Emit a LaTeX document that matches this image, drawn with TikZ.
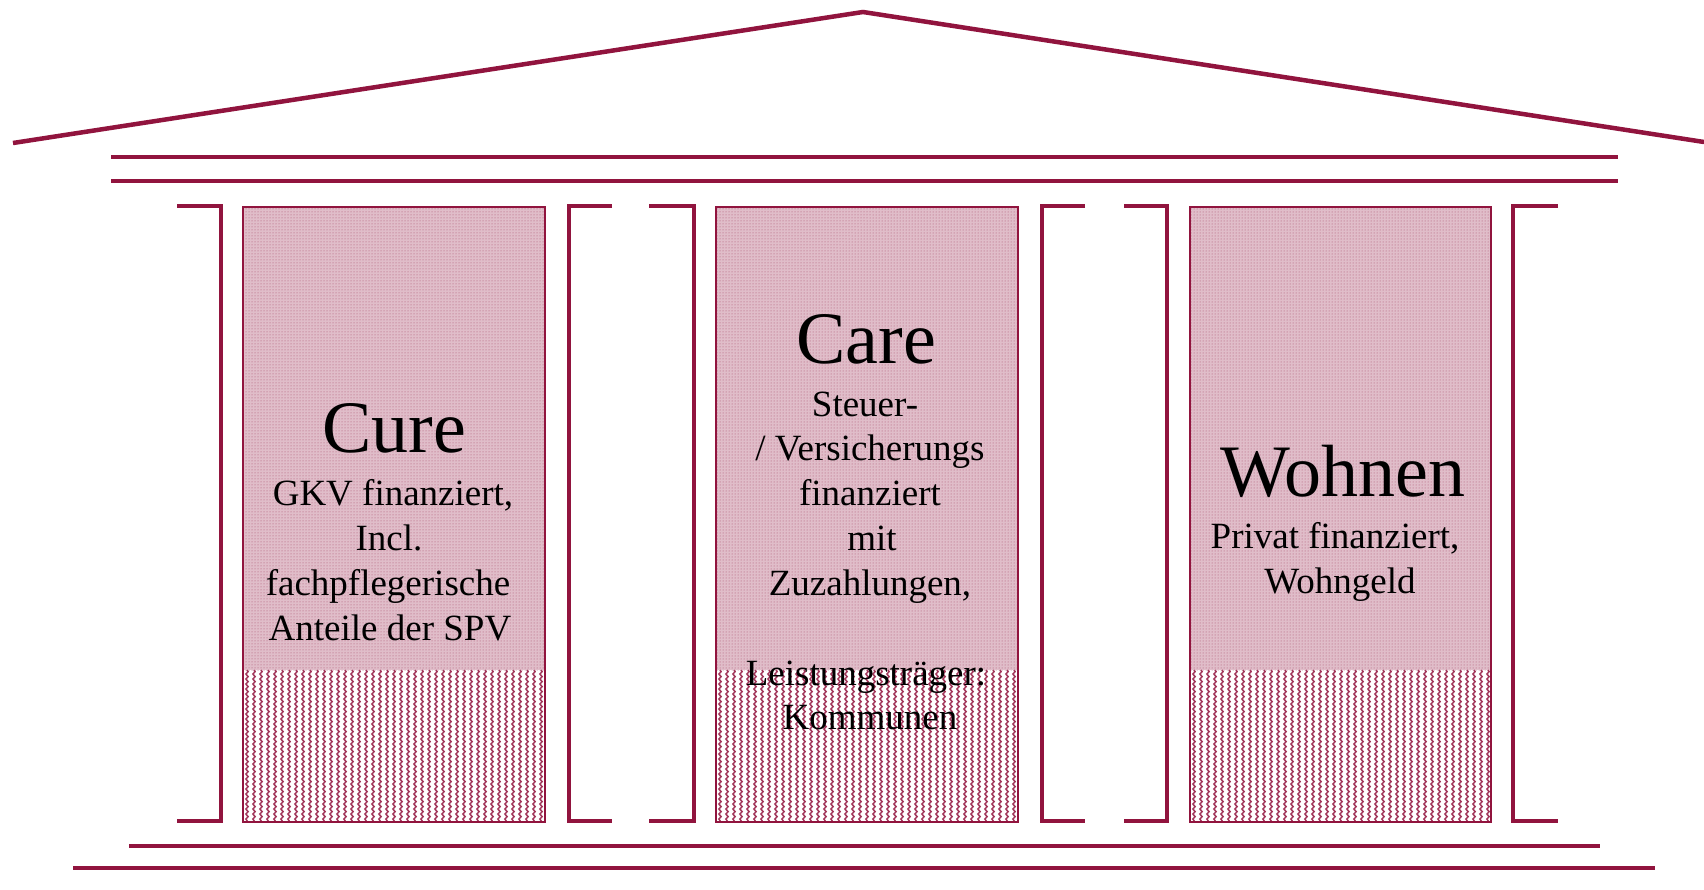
\documentclass[tikz,border=0pt]{standalone}
\usepackage{fontspec}
\setmainfont{Liberation Serif}
\usetikzlibrary{patterns,decorations.pathmorphing}
\definecolor{maroon}{RGB}{145,20,62}
\begin{document}
\begin{tikzpicture}[x=1pt,y=-1pt,
  struct/.style={draw=maroon,line width=4.5pt,line join=miter},
  colbox/.style={draw=maroon,line width=1.3pt},
  colfill/.style={fill=maroon!28},
  coldots/.style={pattern=dots,pattern color=maroon!75},
  wave/.style={draw=maroon!85,line width=1.5pt,decorate,decoration={snake,segment length=5pt,amplitude=1.1pt}},
  title/.style={font=\fontsize{74}{80}\selectfont,anchor=base,inner sep=0pt},
  body/.style={font=\fontsize{37}{45}\selectfont,anchor=base,inner sep=0pt}]
\useasboundingbox (0,0) rectangle (1704,890);

% roof
\coordinate (rl) at (13,143);
\coordinate (ra) at (863,12);
\coordinate (rr) at (1704,142);
\draw[struct] (rl) -- (ra) -- (rr);

% entablature
\coordinate (e1l) at (111,157); \coordinate (e1r) at (1618,157);
\coordinate (e2l) at (111,181); \coordinate (e2r) at (1618,181);
\draw[struct] (e1l) -- (e1r);
\draw[struct] (e2l) -- (e2r);

% base
\coordinate (b1l) at (129,846); \coordinate (b1r) at (1600,846);
\coordinate (b2l) at (73,868);  \coordinate (b2r) at (1655,868);
\draw[struct] (b1l) -- (b1r);
\draw[struct] (b2l) -- (b2r);

% column shafts
\foreach \l/\r in {243/545, 716/1018, 1190/1491}{
  \fill[colfill] (\l,207) rectangle (\r,670);
  \fill[coldots] (\l,207) rectangle (\r,670);
  \pgfmathsetmacro{\xs}{\l+4}
  \pgfmathsetmacro{\xt}{\l+11}
  \foreach \x in {\xs,\xt,...,\r}{
    \draw[wave] (\x,670) -- (\x,822);
  }
  \draw[colbox] (\l,207) rectangle (\r,822);
}

% brackets
\draw[struct] (177,206) -- (221,206) -- (221,821) -- (177,821);
\draw[struct] (612,206) -- (569,206) -- (569,821) -- (612,821);
\draw[struct] (649,206) -- (694,206) -- (694,821) -- (649,821);
\draw[struct] (1085,206) -- (1042,206) -- (1042,821) -- (1085,821);
\draw[struct] (1124,206) -- (1167,206) -- (1167,821) -- (1124,821);
\draw[struct] (1558,206) -- (1513,206) -- (1513,821) -- (1558,821);

% texts: Cure
\node[title] (cureT) at (394,452) {Cure};
\node[body] (cure1) at (393,505) {GKV finanziert,};
\node[body] (cure2) at (389,550) {Incl.};
\node[body] (cure3) at (388,595) {fachpflegerische};
\node[body] (cure4) at (390,640) {Anteile der SPV};

% Care
\node[title] (careT) at (866,363) {Care};
\node[body] (care1) at (865,416) {Steuer-};
\node[body] (care2) at (870,460) {/ Versicherungs};
\node[body] (care3) at (870,505) {finanziert};
\node[body] (care4) at (872,550) {mit};
\node[body] (care5) at (870,595) {Zuzahlungen,};
\node[body] (care6) at (866,685) {Leistungsträger:};
\node[body] (care7) at (870,729) {Kommunen};

% Wohnen
\node[title] (wohT) at (1343,496) {Wohnen};
\node[body] (woh1) at (1335,548) {Privat finanziert,};
\node[body] (woh2) at (1340,593) {Wohngeld};
\end{tikzpicture}
\end{document}
